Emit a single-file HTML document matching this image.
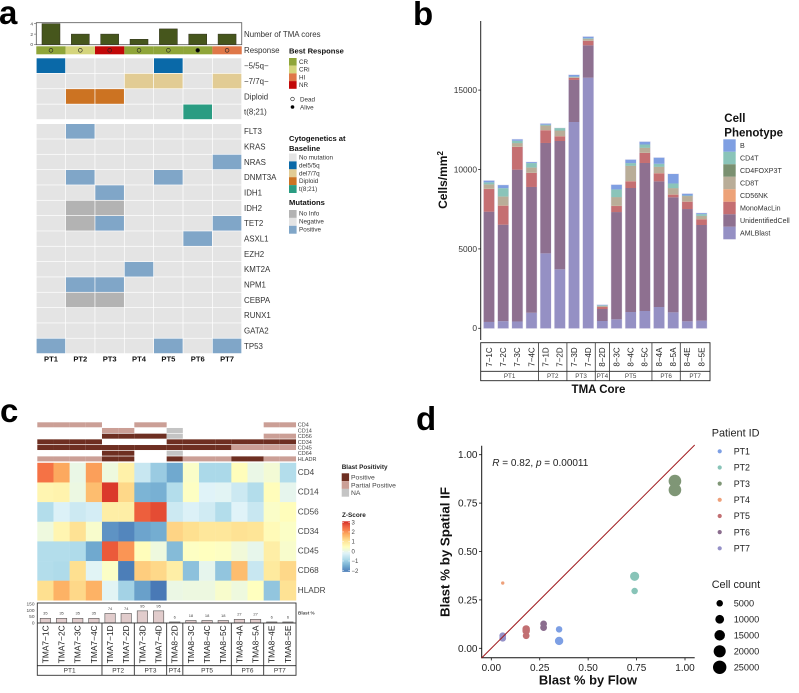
<!DOCTYPE html>
<html lang="en">
<head>
<meta charset="utf-8">
<title>TMA figure panels</title>
<style>
html,body{margin:0;padding:0;background:#fff;}
svg{display:block;font-family:"Liberation Sans",Arial,sans-serif;filter:blur(0.3px);}
</style>
</head>
<body>
<svg id="fig" xmlns="http://www.w3.org/2000/svg" width="799" height="693" viewBox="0 0 799 693">
  <rect width="799" height="693" fill="#fff"/>
  <text x="-1" y="24" font-size="33" font-weight="700" fill="#000">a</text>
  <text x="413" y="25" font-size="33" font-weight="700" fill="#000">b</text>
  <text x="0" y="422" font-size="33" font-weight="700" fill="#000">c</text>
  <text x="416" y="430" font-size="33" font-weight="700" fill="#000">d</text>

  <g id="a"></g>
  <g id="aleg" fill="#333">
    <text x="289" y="53.5" font-size="7.6" font-weight="700" fill="#111">Best Response</text>
    <text x="289" y="141" font-size="7.6" font-weight="700" fill="#111">Cytogenetics at</text>
    <text x="289" y="151" font-size="7.6" font-weight="700" fill="#111">Baseline</text>
    <text x="289" y="205" font-size="7.6" font-weight="700" fill="#111">Mutations</text>
    <circle cx="292.5" cy="99" r="1.8" fill="none" stroke="#222" stroke-width="0.6"/>
    <text x="300" y="101.3" font-size="6.3">Dead</text>
    <circle cx="292.5" cy="107" r="1.8" fill="#000"/>
    <text x="300" y="109.3" font-size="6.3">Alive</text>
  </g>

  <g id="b"></g>
  <g id="c"></g>
  <g id="d"></g>
</svg>
<script>
/* ---------- panel a data ---------- */
const patients = ['PT1','PT2','PT3','PT4','PT5','PT6','PT7'];
const coreCounts = [4,2,2,1,3,2,2];
const coreTicks = [0,2,4];
const responses = ['CR','CRi','NR','CR','CR','CR','HI'];
const survival = ['Dead','Dead','Dead','Dead','Dead','Alive','Dead'];
const cytoRows = ['−5/5q−','−7/7q−','Diploid','t(8;21)'];
const cytoCalls = [
  ['del5','n','n','n','del5','n','n'],
  ['n','n','n','del7','del7','n','del7'],
  ['n','dip','dip','n','n','n','n'],
  ['n','n','n','n','n','t821','n']
];
const mutRows = ['FLT3','KRAS','NRAS','DNMT3A','IDH1','IDH2','TET2','ASXL1','EZH2','KMT2A','NPM1','CEBPA','RUNX1','GATA2','TP53'];
const mutCalls = [
  ['n','p','n','n','n','n','n'],
  ['n','n','n','n','n','n','n'],
  ['n','n','n','n','n','n','p'],
  ['n','p','n','n','p','n','n'],
  ['n','n','p','n','n','n','n'],
  ['n','i','i','n','n','n','n'],
  ['n','i','p','n','n','n','p'],
  ['n','n','n','n','n','p','n'],
  ['n','n','n','n','n','n','n'],
  ['n','n','n','p','n','n','n'],
  ['n','p','p','n','n','n','n'],
  ['n','i','i','n','n','n','n'],
  ['n','n','n','n','n','n','n'],
  ['n','n','n','n','n','n','n'],
  ['p','n','n','n','p','n','p']
];
const responseLegend = ['CR','CRi','HI','NR'];
const cytoLegend = ['No mutation','del5/5q','del7/7q','Diploid','t(8;21)'];
const cytoLegendKeys = ['n','del5','del7','dip','t821'];
const mutLegend = ['No Info','Negative','Positive'];
const mutLegendKeys = ['i','n','p'];

/* ---------- panel b data ---------- */
const coreLabels = ['7−1C','7−2C','7−3C','7−4C','7−1D','7−2D','7−3D','7−4D','8−2D','8−3C','8−4C','8−5C','8−4A','8−5A','8−4E','8−5E'];
const coreGroups = ['PT1','PT2','PT3','PT4','PT5','PT6','PT7'];
const coreGroupSizes = [4,2,2,1,3,2,2];
const phenotypeNames = ['B','CD4T','CD4FOXP3T','CD8T','CD56NK','MonoMacLin','UnidentifiedCell','AMLBlast'];
const amlBlast = [400,450,430,980,4720,3715,12990,15780,460,565,1025,1090,1340,1005,440,480];
const unidentifiedCell = [6945,6075,9560,7920,6950,8080,2650,2040,755,6755,7810,9320,7915,7245,7070,6025];
const monoMacLin = [1425,1195,1430,880,800,295,140,280,125,380,420,630,505,165,460,360];
const cd56nk = [15,10,10,10,10,10,5,10,5,10,10,10,10,10,10,10];
const cd8t = [265,560,220,325,280,340,15,100,55,540,955,305,390,390,340,195];
const cd4foxp3t = [20,15,15,15,10,15,5,10,15,15,15,15,15,15,10,10];
const cd4t = [120,520,145,275,50,150,45,40,30,480,170,205,185,290,30,110];
const bCells = [105,190,85,60,65,0,105,100,30,290,210,170,380,595,110,60];
const cellTicks = [0,5000,10000,15000];

/* ---------- panel c data ---------- */
const tmaLabels = ['TMA7−1C','TMA7−2C','TMA7−3C','TMA7−4C','TMA7−1D','TMA7−2D','TMA7−3D','TMA7−4D','TMA8−2D','TMA8−3C','TMA8−4C','TMA8−5C','TMA8−4A','TMA8−5A','TMA8−4E','TMA8−5E'];
const annotRows = ['CD4','CD14','CD56','CD34','CD45','CD64','HLADR'];
const annotCalls = [
  ['P','P','P','P','','','P','P','','','','','','','P','P'],
  ['','','','','P','P','','','N','','','','','','',''],
  ['','','','','S','S','S','S','N','','','','','','P','P'],
  ['S','S','S','S','','','','','S','S','S','S','S','S','S','S'],
  ['S','S','S','S','S','S','S','S','S','S','S','S','P','P','P','P'],
  ['','','','','S','S','','','N','','','','','','',''],
  ['P','P','P','P','S','S','','','S','P','P','P','S','S','P','P']
];
const heatRows = ['CD4','CD14','CD56','CD34','CD45','CD68','HLADR'];
const heatCD4 = [2.4,1.85,0.05,1.95,0.15,0.8,-0.45,-1.0,-1.5,0.4,-0.8,-0.8,0.55,0.05,0.25,-0.7];
const heatCD14 = [0.7,0.75,0.1,1.6,3.0,1.25,-1.35,-1.4,-0.7,0.45,-0.15,-0.1,-0.4,-0.7,0.55,-0.02];
const heatCD56 = [-0.7,-0.2,-0.4,-0.3,0.85,0.85,2.6,2.8,-0.4,-0.2,-0.35,-0.7,-0.15,-0.45,0.4,0.55];
const heatCD34 = [0.15,0.7,1.1,0.35,-1.75,-1.9,-1.55,-1.45,1.3,1.15,1.0,1.0,1.1,1.05,0.6,0.42];
const heatCD45 = [-0.7,-0.7,-0.75,-1.5,2.65,2.05,0.55,0.15,-1.25,0.45,0.5,0.45,0.2,0,0.85,0.35];
const heatCD68 = [-0.7,-0.75,1.15,-0.12,0.42,-2.0,1.4,1.25,0.85,-1.15,-0.02,-1.1,1.6,-0.45,0.95,1.25];
const heatHLADR = [1.15,1.75,1.25,1.75,-0.1,-0.9,-1.6,-2.05,0.08,0.12,0.12,0.35,0.15,0.5,-1.1,1.1];
const blastPct = [35,35,35,35,74,74,95,95,6,18,18,18,27,27,6,6];
const blastTicks = [0,50,100,150];
const zTicks = [3,2,1,0,-1,-2];
const positivityLegend = ['Positive','Partial Positive','NA'];
const positivityKeys = ['S','P','N'];

/* ---------- panel d data ---------- */
const scatterPatients = ['PT1','PT1','PT2','PT2','PT3','PT3','PT4','PT5','PT5','PT5','PT6','PT6','PT7','PT7'];
const flowBlast = [0.35,0.35,0.74,0.74,0.948,0.948,0.059,0.18,0.18,0.18,0.27,0.27,0.059,0.059];
const spatialBlast = [0.098,0.038,0.372,0.296,0.864,0.818,0.337,0.10,0.09,0.065,0.126,0.107,0.065,0.052];
const cellCount = [5000,9000,11000,5000,22000,22000,500,7000,7000,5500,5500,5500,5500,5500];
const scatterTicks = ['0.00','0.25','0.50','0.75','1.00'];
const sizeLegend = [5000,10000,15000,20000,25000];

/* ---------- helpers ---------- */
const NS='http://www.w3.org/2000/svg';
function mk(parent,tag,attrs){
  const e=document.createElementNS(NS,tag);
  for(const k in attrs) e.setAttribute(k,attrs[k]);
  parent.appendChild(e);
  return e;
}
function label(parent,x,y,s,size,opts){
  opts=opts||{};
  const e=mk(parent,'text',{x:x,y:y+size*0.35,'font-size':size,fill:opts.fill||'#333'});
  if(opts.weight) e.setAttribute('font-weight',opts.weight);
  if(opts.anchor) e.setAttribute('text-anchor',opts.anchor);
  if(opts.rotate!==undefined) e.setAttribute('transform','rotate('+opts.rotate+' '+x+' '+y+')');
  e.textContent=s;
  return e;
}
function box(parent,x,y,w,h,fill){
  return mk(parent,'rect',{x:x,y:y,width:w,height:h,fill:fill});
}
function seg(parent,x1,y1,x2,y2,stroke,sw){
  return mk(parent,'line',{x1:x1,y1:y1,x2:x2,y2:y2,stroke:stroke,'stroke-width':sw});
}

/* ---------- panel a ---------- */
(function(){
  const g=document.getElementById('a'), lg=document.getElementById('aleg');
  const x0=36.3, cw=29.35;
  const respColor={CR:'#8fa539',CRi:'#d5d57c',HI:'#df7748',NR:'#c20808'};
  const callColor={n:'#e4e4e4',del5:'#0a69a8',del7:'#e2cc94',dip:'#cc7322',t821:'#2a9c82',p:'#80a6c8',i:'#b3b3b3'};
  const yCount=v=>44.5-v*5.2;

  const frame=mk(g,'rect',{x:x0,y:22.7,width:cw*7,height:22,fill:'#fff',stroke:'#555','stroke-width':0.8});
  
  
  coreCounts.forEach((v,i)=>{
    const b=box(g,x0+cw*i+cw/2-9,yCount(v),18,44.5-yCount(v),'#46561c');
    b.setAttribute('stroke','#2e2e1a');
    b.setAttribute('stroke-width','0.5');
    
    
  });
  coreTicks.forEach(v=>{
    const t=label(g,33,yCount(v),String(v),4.8,{anchor:'end',fill:'#444'});
    
    
    seg(g,34,yCount(v),x0,yCount(v),'#444',0.5);
  });

  responses.forEach((r,i)=>{
    const c=box(g,x0+cw*i,46.3,cw,8,respColor[r]);
    
    
    const m=mk(g,'circle',{cx:x0+cw*i+cw/2,cy:50.3,r:1.9,fill:survival[i]==='Alive'?'#000':'none',stroke:'#222','stroke-width':0.6});
    
    
  });

  function matrix(rows,calls,y0,ph){
    rows.forEach((name,r)=>{
      calls[r].forEach((call,i)=>{
        const c=box(g,x0+cw*i+0.3,y0+ph*r+0.3,cw-0.7,ph-0.7,callColor[call]);
        
        
      });
      const t=label(g,244,y0+ph*r+ph/2,name,7.9);
      
      
    });
  }
  matrix(cytoRows,cytoCalls,58,15.4);
  matrix(mutRows,mutCalls,123.7,15.33);

  const t1=label(g,244,34,'Number of TMA cores',7.9);
  
  
  const t2=label(g,244,50.3,'Response',7.9);
  
  

  patients.forEach((p,i)=>{
    const t=label(g,x0+cw*i+cw/2,359,p,7.6,{weight:700,anchor:'middle',fill:'#111'});
    
    
  });

  responseLegend.forEach((n,i)=>{
    const s=box(lg,289,58+i*7.7,7.6,7.7,respColor[n]);
    
    
    const t=label(lg,299,61.8+i*7.7,n,6.3);
    
    
  });
  cytoLegend.forEach((n,i)=>{
    const s=box(lg,289,153.5+i*7.9,7.6,7.9,callColor[cytoLegendKeys[i]]);
    
    
    const t=label(lg,299,157.3+i*7.9,n,6.3);
    
    
  });
  mutLegend.forEach((n,i)=>{
    const s=box(lg,289,210+i*7.9,7.6,7.9,callColor[mutLegendKeys[i]]);
    
    
    const t=label(lg,299,213.4+i*7.9,n,6.3);
    
    
  });
})();

/* ---------- panel b ---------- */
(function(){
  const g=document.getElementById('b');
  const colors=['#7f9fe2','#8ac4b9','#7a9070','#b9ad98','#eda278','#c56f72','#8e7090','#9590c4'];
  const stack=[amlBlast,unidentifiedCell,monoMacLin,cd56nk,cd8t,cd4foxp3t,cd4t,bCells];
  const stackColors=[colors[7],colors[6],colors[5],colors[4],colors[3],colors[2],colors[1],colors[0]];
  const stackNames=phenotypeNames.slice().reverse();
  const yS=v=>328.3-v*0.01588;
  const xS=i=>489+i*14.17;
  const bw=10.6;

  coreLabels.forEach((lab,i)=>{
    let total=0;
    stack.forEach(s=>{total+=s[i];});
    const halo=mk(g,'rect',{x:xS(i)-bw/2,y:yS(total),width:bw,height:yS(0)-yS(total),fill:'none',stroke:'#e8e5f2','stroke-width':1});
    
    
    let acc=0;
    stack.forEach((s,k)=>{
      const v=s[i];
      const r=box(g,xS(i)-bw/2,yS(acc+v),bw,yS(acc)-yS(acc+v),stackColors[k]);
      
      
      acc+=v;
    });
  });

  const ax=seg(g,480.7,21,480.7,340,'#222',1);
  
  
  cellTicks.forEach(v=>{
    seg(g,478.2,yS(v),480.7,yS(v),'#222',0.8);
    const t=label(g,477,yS(v),String(v),8.4,{anchor:'end'});
    
    
  });
  const yt=mk(g,'text',{x:447,y:180,'font-size':12,'font-weight':700,fill:'#111','text-anchor':'middle',transform:'rotate(-90 447 180)'});
  
  
  yt.textContent='Cells/mm';
  const sup=mk(yt,'tspan',{'font-size':8,dy:-4});
  sup.textContent='2';

  const tb=mk(g,'rect',{x:480.7,y:342.7,width:229.3,height:38,fill:'none',stroke:'#222','stroke-width':0.9});
  
  
  seg(g,480.7,371.3,710,371.3,'#222',0.8);
  let start=0;
  coreGroups.forEach((p,k)=>{
    const n=coreGroupSizes[k];
    const left=k===0?480.7:xS(start)-7.1;
    const right=k===coreGroups.length-1?710:xS(start+n)-7.1;
    if(k<coreGroups.length-1) seg(g,right,342.7,right,380.7,'#333',0.8);
    const t=label(g,(left+right)/2,376,p,6.3,{anchor:'middle',fill:'#444'});
    
    
    start+=n;
  });
  coreLabels.forEach((lab,i)=>{
    const t=label(g,xS(i),357,lab,8,{anchor:'middle',rotate:-90,fill:'#222'});
    
    
  });
  const xt=label(g,598.5,389,'TMA Core',11.5,{anchor:'middle',weight:700,fill:'#111'});
  
  

  const l1=label(g,724.3,118,'Cell',11.5,{weight:700,fill:'#111'});
  
  
  const l2=label(g,724.3,132.5,'Phenotype',11.5,{weight:700,fill:'#111'});
  
  
  phenotypeNames.forEach((n,i)=>{
    const s=box(g,723.3,139.3+i*12.5,12.4,12.5,colors[i]);
    
    
    const t=label(g,740,145.5+i*12.5,n,7.1);
    
    
  });
})();

/* ---------- panel c ---------- */
(function(){
  const g=document.getElementById('c');
  const x0=37.3, cw=16.17;
  const annot={S:'#6e2f22',P:'#cb9f96',N:'#c4c4c4'};
  annotRows.forEach((n,r)=>{
    const y=422.3+r*5.68;
    annotCalls[r].forEach((v,i)=>{
      if(!v) return;
      const c=box(g,x0+cw*i,y,cw,5,annot[v]);
      
      
    });
    const t=label(g,297.8,y+2.5,n,5.5,{fill:'#444'});
    
    
  });

  const stops=['#4575b4','#74add1','#abd9e9','#e0f3f8','#ffffbf','#fee090','#fdae61','#f46d43','#d73027'];
  function rgb(h){return [1,3,5].map(k=>parseInt(h.substr(k,2),16));}
  function zColor(z){
    let t=(z+2.1)/0.65;
    t=Math.max(0,Math.min(7.999,t));
    const k=Math.floor(t),f=t-k,a=rgb(stops[k]),b=rgb(stops[k+1]);
    return 'rgb('+a.map((v,j)=>Math.round(v+(b[j]-v)*f)).join(',')+')';
  }
  const heat=[heatCD4,heatCD14,heatCD56,heatCD34,heatCD45,heatCD68,heatHLADR];
  const y0=462.8, rh=19.65;
  heat.forEach((row,r)=>{
    row.forEach((z,i)=>{
      const c=box(g,x0+cw*i,y0+r*rh,cw+0.2,rh+0.2,zColor(z));
      
      
    });
    const t=label(g,297.8,y0+r*rh+rh/2-0.5,heatRows[r],8.2,{fill:'#444'});
    
    
  });

  /* blast bars */
  const yB=v=>622.7-v*0.1247;
  const frame=mk(g,'rect',{x:x0,y:603,width:cw*16,height:72.3,fill:'none',stroke:'#333','stroke-width':0.9});
  
  
  blastPct.forEach((v,i)=>{
    const cx=x0+cw*i+cw/2;
    const b=mk(g,'rect',{x:cx-5.2,y:yB(v),width:10.4,height:622.7-yB(v),fill:'#e1cccc',stroke:'#555','stroke-width':0.6});
    
    
    const t=label(g,cx,yB(v)-5,String(v),4,{anchor:'middle',fill:'#444'});
    
    
  });
  blastTicks.forEach(v=>{
    const t=label(g,34.5,yB(v),String(v),4.8,{anchor:'end',fill:'#444'});
    
    
  });
  const bl=label(g,298,613,'Blast %',4.6,{weight:700,fill:'#444'});
  
  
  seg(g,x0,623,x0+cw*16,623,'#444',0.9);
  seg(g,x0,665.7,x0+cw*16,665.7,'#222',0.8);
  tmaLabels.forEach((n,i)=>{
    const t=label(g,x0+cw*i+cw/2,644.3,n,8.4,{anchor:'middle',rotate:-90,fill:'#222'});
    
    
  });
  let st=0;
  coreGroups.forEach((p,k)=>{
    const n=coreGroupSizes[k];
    const l=x0+st*cw, r=x0+(st+n)*cw;
    if(k<coreGroups.length-1) seg(g,r,623,r,675.3,'#333',0.9);
    const t=label(g,(l+r)/2,670.3,p,6.5,{anchor:'middle',fill:'#333'});
    
    
    st+=n;
  });

  /* legends */
  const lt=label(g,341.7,467,'Blast Positivity',6.4,{weight:700,fill:'#222'});
  
  
  positivityLegend.forEach((n,i)=>{
    const s=box(g,341.7,473.3+i*7.8,7.4,7.8,annot[positivityKeys[i]]);
    
    
    const t=label(g,351,477.2+i*7.8,n,6.8,{fill:'#444'});
    
    
  });
  const zt=label(g,342,514.7,'Z-Score',6.4,{weight:700,fill:'#222'});
  
  
  const yZ=z=>551.3-z*9.68;
  for(let z=3.1;z>-2.1;z-=0.1){
    const s=box(g,342.3,yZ(z),7.7,1.2,zColor(z));
    
    
  }
  zTicks.forEach(z=>{
    seg(g,342.3,yZ(z),344,yZ(z),'#fff',0.5);
    seg(g,348.3,yZ(z),350,yZ(z),'#fff',0.5);
    const t=label(g,351.5,yZ(z),z<0?'−'+Math.abs(z):String(z),6,{fill:'#444'});
    
    
  });
})();

/* ---------- panel d ---------- */
(function(){
  const g=document.getElementById('d');
  const colors={PT1:'#7d9fe4',PT2:'#88c4b8',PT3:'#7f9676',PT4:'#eea07a',PT5:'#c26f72',PT6:'#8b6d8e',PT7:'#9591c8'};
  const xD=v=>491.3+v*193.7;
  const yD=v=>648.3-v*193.6;
  const rD=c=>Math.sqrt(2+0.00172*c);

  const ax1=seg(g,481.7,445.7,481.7,657.7,'#111',1);
  
  
  const ax2=seg(g,481.2,657.7,694.7,657.7,'#111',1);
  
  

  scatterTicks.forEach(s=>{
    const v=parseFloat(s);
    seg(g,479,yD(v),481.7,yD(v),'#111',0.8);
    seg(g,xD(v),657.7,xD(v),660.4,'#111',0.8);
    const a=label(g,477.5,yD(v),s,10,{anchor:'end',fill:'#222'});
    
    
    const b=label(g,xD(v),667.5,s,10,{anchor:'middle',fill:'#222'});
    
    
  });

  flowBlast.forEach((x,i)=>{
    const c=mk(g,'circle',{cx:xD(x),cy:yD(spatialBlast[i]),r:rD(cellCount[i]),fill:colors[scatterPatients[i]]});
    
    
  });

  const ref=seg(g,xD(-0.05),yD(-0.05),xD(1.05),yD(1.05),'#a01a1e',1);
  
  

  const stat=mk(g,'text',{x:492.3,y:465.8,'font-size':10,fill:'#222'});
  
  
  const i1=mk(stat,'tspan',{'font-style':'italic'});
  i1.textContent='R';
  const m1=mk(stat,'tspan',{});
  m1.textContent=' = 0.82, ';
  const i2=mk(stat,'tspan',{'font-style':'italic'});
  i2.textContent='p';
  const m2=mk(stat,'tspan',{});
  m2.textContent=' = 0.00011';

  const xt=label(g,588,680,'Blast % by Flow',12.9,{anchor:'middle',weight:700,fill:'#111'});
  
  
  const yt=label(g,445,552,'Blast % by Spatial IF',13.3,{anchor:'middle',weight:700,rotate:-90,fill:'#111'});
  
  

  const lt=label(g,711.7,432.7,'Patient ID',10.9,{fill:'#222'});
  
  
  patients.forEach((p,i)=>{
    const y=451.3+i*16.17;
    const c=mk(g,'circle',{cx:719.7,cy:y,r:2.1,fill:colors[p]});
    
    
    const t=label(g,733.7,y,p,8.9,{fill:'#222'});
    
    
  });
  const st=label(g,711.7,584.3,'Cell count',10.9,{fill:'#222'});
  
  
  sizeLegend.forEach((v,i)=>{
    const y=603.3+i*16;
    const c=mk(g,'circle',{cx:719.7,cy:y,r:rD(v),fill:'#000'});
    
    
    const t=label(g,733.7,y,String(v),9.2,{fill:'#222'});
    
    
  });
})();
</script>
</body>
</html>
